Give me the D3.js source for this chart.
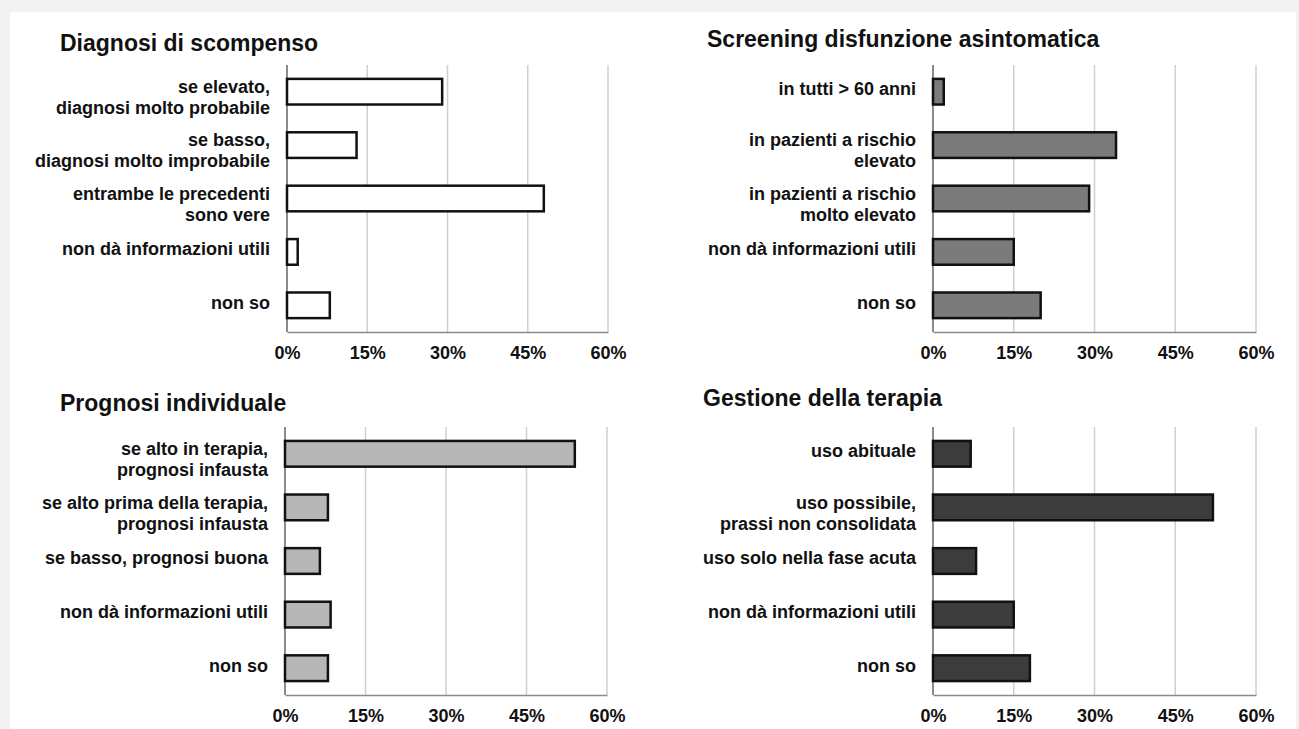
<!DOCTYPE html>
<html>
<head>
<meta charset="utf-8">
<script src="https://cdn.jsdelivr.net/npm/d3@7"></script>
<style>
	body { margin: 0; background: #f2f2f2; }
	svg { display: block; }
	text { font-family: 'Liberation Sans', Arial, sans-serif; font-weight: bold; fill: #111; }
</style>
</head>
<body>
<script>
// data
var diagnosiLabels = ['se elevato,\ndiagnosi molto probabile', 'se basso,\ndiagnosi molto improbabile', 'entrambe le precedenti\nsono vere', 'non dà informazioni utili', 'non so'];
var diagnosiValues = [29, 13, 48, 2, 8];

var screeningLabels = ['in tutti > 60 anni', 'in pazienti a rischio\nelevato', 'in pazienti a rischio\nmolto elevato', 'non dà informazioni utili', 'non so'];
var screeningValues = [2, 34, 29, 15, 20];

var prognosiLabels = ['se alto in terapia,\nprognosi infausta', 'se alto prima della terapia,\nprognosi infausta', 'se basso, prognosi buona', 'non dà informazioni utili', 'non so'];
var prognosiValues = [54, 8, 6.5, 8.5, 8];

var terapiaLabels = ['uso abituale', 'uso possibile,\nprassi non consolidata', 'uso solo nella fase acuta', 'non dà informazioni utili', 'non so'];
var terapiaValues = [7, 52, 8, 15, 18];

var tickValues = [0, 15, 30, 45, 60];

var W = 1299, H = 729;

var svg = d3.select('body')
	.append('svg')
	.attr('width', W)
	.attr('height', H);

// white sheet over the gray page
svg.append('rect')
	.attr('x', 10)
	.attr('y', 12)
	.attr('width', 1286)
	.attr('height', H - 12)
	.attr('fill', '#fff');

var panels = [
	{ title: 'Diagnosi di scompenso', labels: diagnosiLabels, values: diagnosiValues, fill: '#fff',
		tx: 60, ty: 51, left: 287, right: 608, top: 65, bottom: 332 },
	{ title: 'Screening disfunzione asintomatica', labels: screeningLabels, values: screeningValues, fill: '#7b7b7b',
		tx: 707, ty: 47, left: 933, right: 1256, top: 65, bottom: 332 },
	{ title: 'Prognosi individuale', labels: prognosiLabels, values: prognosiValues, fill: '#b7b7b7',
		tx: 60, ty: 411, left: 285, right: 607, top: 427, bottom: 695 },
	{ title: 'Gestione della terapia', labels: terapiaLabels, values: terapiaValues, fill: '#3c3c3c',
		tx: 703, ty: 406, left: 933, right: 1256, top: 427, bottom: 695 }
];

panels.forEach(draw_panel);

function draw_panel (p) {
	var g = svg.append('g');

	g.append('text')
		.attr('x', p.tx)
		.attr('y', p.ty)
		.attr('font-size', '23px')
		.text(p.title);

	var x = d3.scaleLinear().domain([0, 60]).range([p.left, p.right]);
	var y = d3.scaleBand()
		.domain(d3.range(p.values.length))
		.range([p.top, p.bottom])
		.paddingInner(0.52)
		.paddingOuter(0.26);

	// gridlines
	g.selectAll('.grid')
		.data(tickValues.slice(1))
		.enter()
		.append('line')
		.attr('x1', function (d) { return x(d); })
		.attr('x2', function (d) { return x(d); })
		.attr('y1', p.top)
		.attr('y2', p.bottom)
		.attr('stroke', '#cfcfcf')
		.attr('stroke-width', 1.5);

	// x axis
	var x_axis = d3.axisBottom(x)
		.tickValues(tickValues)
		.tickSize(0)
		.tickPadding(14)
		.tickFormat(function (d) { return d + '%'; });

	var ax = g.append('g')
		.attr('transform', 'translate(0,' + p.bottom + ')')
		.call(x_axis);
	ax.select('.domain').attr('stroke', '#8a8a8a').attr('stroke-width', 1.5);
	ax.selectAll('text')
		.attr('font-size', '18px')
		.attr('font-family', null)
		.attr('fill', '#111');

	// left axis line
	g.append('line')
		.attr('x1', p.left)
		.attr('x2', p.left)
		.attr('y1', p.top)
		.attr('y2', p.bottom)
		.attr('stroke', '#666')
		.attr('stroke-width', 1.5);

	// bars
	g.selectAll('.bar')
		.data(p.values)
		.enter()
		.append('rect')
		.attr('x', x(0))
		.attr('y', function (d, i) { return y(i); })
		.attr('width', function (d) { return x(d) - x(0); })
		.attr('height', y.bandwidth())
		.attr('fill', p.fill)
		.attr('stroke', '#111')
		.attr('stroke-width', 2.5);

	// category labels
	g.selectAll('.lab')
		.data(p.labels)
		.enter()
		.append('text')
		.attr('text-anchor', 'end')
		.attr('font-size', '18px')
		.each(function (d, i) {
			var lines = d.split('\n');
			var cy = y(i) + y.bandwidth() / 2;
			var y0 = lines.length > 1 ? cy - 5 : cy - 3;
			var t = d3.select(this);
			lines.forEach(function (line, k) {
				t.append('tspan')
					.attr('x', p.left - 17)
					.attr('y', y0 + k * 21)
					.attr('dy', '0.35em')
					.text(line);
			});
		});
}
</script>
</body>
</html>
